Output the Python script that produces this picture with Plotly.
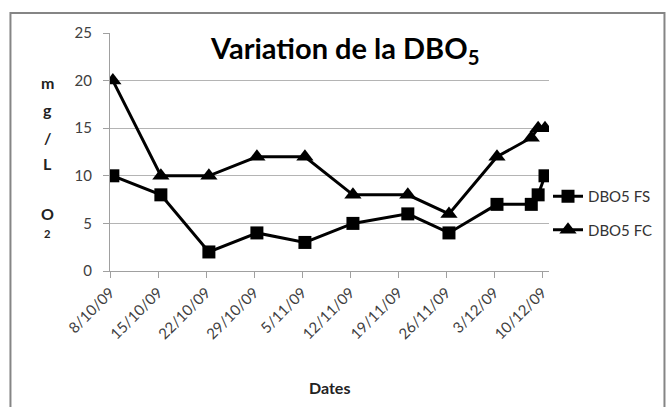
import plotly.graph_objects as go

# ---- data ----
dates = ["2009-10-08", "2009-10-15", "2009-10-22", "2009-10-29", "2009-11-05",
         "2009-11-12", "2009-11-20", "2009-11-26", "2009-12-03", "2009-12-08",
         "2009-12-09", "2009-12-10"]
dbo5_fs = [10, 8, 2, 4, 3, 5, 6, 4, 7, 7, 8, 10]
dbo5_fc = [20, 10, 10, 12, 12, 8, 8, 6, 12, 14, 15, 15]

tick_dates = ["2009-10-08", "2009-10-15", "2009-10-22", "2009-10-29", "2009-11-05",
              "2009-11-12", "2009-11-19", "2009-11-26", "2009-12-03", "2009-12-10"]
tick_labels = ["8/10/09", "15/10/09", "22/10/09", "29/10/09", "5/11/09",
               "12/11/09", "19/11/09", "26/11/09", "3/12/09", "10/12/09"]
y_ticks = [0, 5, 10, 15, 20, 25]
y_title_chars = ["m", "g", "/", "L", "", "O", "<sub>2</sub>"]

FONT = "Lato, 'Open Sans', sans-serif"
x_pts = [d + " 10:00" for d in dates]

fig = go.Figure()
fig.add_trace(go.Scatter(
    x=x_pts, y=dbo5_fs, name="DBO5 FS", mode="lines+markers",
    line=dict(color="black", width=3),
    marker=dict(symbol="square", size=13, color="black"),
    legendgroup="fs"))
fig.add_trace(go.Scatter(
    x=x_pts, y=dbo5_fc, name="DBO5 FC", mode="lines+markers",
    line=dict(color="black", width=3),
    marker=dict(symbol="triangle-up", size=15, color="black"),
    legendgroup="fc"))

L, R, T, B = 110, 119, 33, 136
W, H = 670, 407
pw, ph = W - L - R, H - T - B

def px_x(x):
    return (x - L) / pw

def px_y(y):
    return (H - B - y) / ph

annotations = [
    dict(text="<b>Variation de la DBO<sub>5</sub></b>", xref="paper", yref="paper",
         x=px_x(346), y=px_y(50), showarrow=False, xanchor="center", yanchor="middle",
         font=dict(family=FONT, size=29, color="black")),
    dict(text="<b>Dates</b>", xref="paper", yref="paper",
         x=px_x(331), y=px_y(387), showarrow=False, xanchor="center", yanchor="middle",
         font=dict(family=FONT, size=16, color="#222")),
]
ys = [82, 110, 137, 163, 188, 213, 233]
for ch, yy in zip(y_title_chars, ys):
    if ch:
        annotations.append(dict(text="<b>" + ch + "</b>", xref="paper", yref="paper",
                                x=px_x(47), y=px_y(yy), showarrow=False,
                                xanchor="center", yanchor="middle",
                                font=dict(family=FONT, size=16, color="#222")))

fig.update_layout(
    width=W, height=H,
    margin=dict(l=L, r=R, t=T, b=B),
    paper_bgcolor="white", plot_bgcolor="white",
    font=dict(family=FONT, size=14, color="#404040"),
    showlegend=True,
    legend=dict(x=px_x(550), y=px_y(213), xanchor="left", yanchor="middle",
                tracegroupgap=11, font=dict(family=FONT, size=15, color="#333"),
                bgcolor="rgba(0,0,0,0)"),
    annotations=annotations,
    shapes=[dict(type="rect", xref="paper", yref="paper",
                 x0=px_x(10), x1=px_x(667), y0=px_y(13), y1=px_y(460),
                 line=dict(color="#858585", width=2), layer="below")],
)
fig.update_xaxes(
    type="date", range=["2009-10-08", "2009-12-11"],
    tickvals=tick_dates, ticktext=tick_labels, tickangle=-45,
    showgrid=False, showline=True, linecolor="#a0a0a0", linewidth=1,
    ticks="outside", ticklen=6, tickcolor="#a0a0a0",
    tickfont=dict(family=FONT, size=15, color="#404040"), zeroline=False)
fig.update_yaxes(
    range=[0, 25], tickvals=y_ticks, showgrid=True, gridcolor="#b4b4b4", gridwidth=1,
    showline=True, linecolor="#a0a0a0", linewidth=1,
    ticks="outside", ticklen=6, tickcolor="#a0a0a0", ticklabelstandoff=8,
    tickfont=dict(family=FONT, size=15, color="#404040"), zeroline=False)

fig.write_html("out.html", config={"displayModeBar": False},
               post_script="document.body.style.margin='0px';")
